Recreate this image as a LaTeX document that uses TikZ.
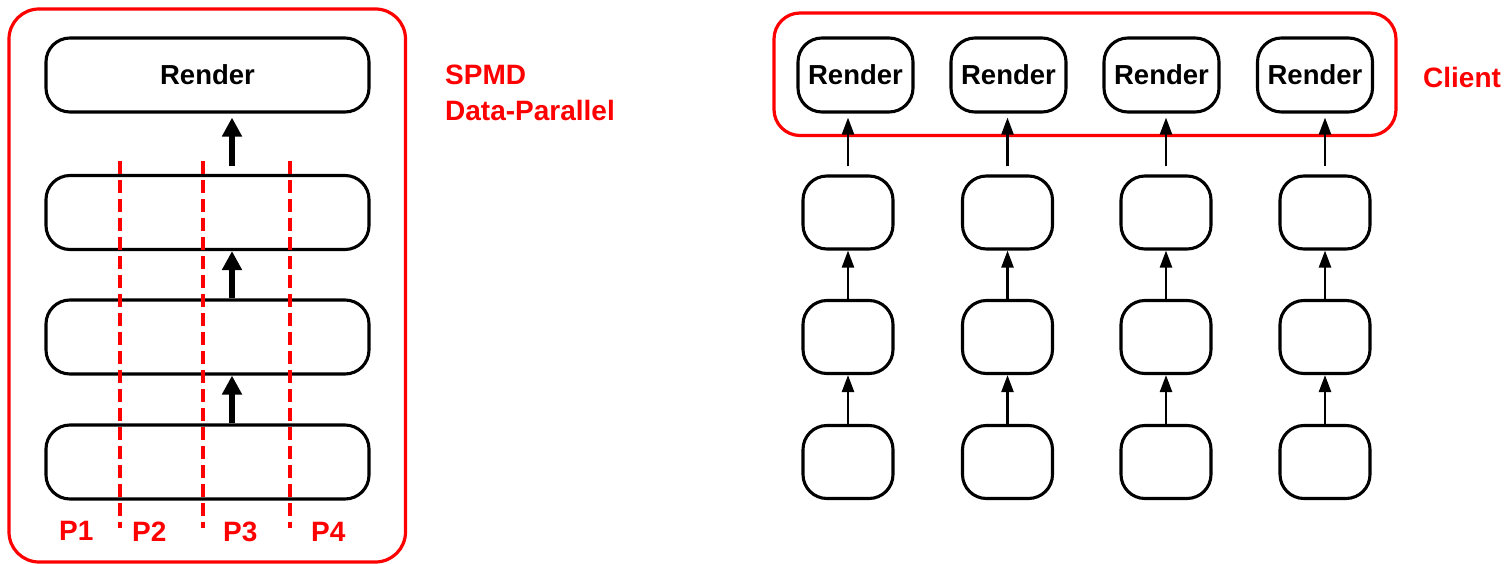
\documentclass[tikz,border=0pt]{standalone}
\usepackage{fontspec}
\setmainfont{Liberation Sans}
\usetikzlibrary{arrows.meta}
\definecolor{accent}{RGB}{255,0,0}
\begin{document}
\begin{tikzpicture}[x=1pt,y=-1pt,
  lbl/.style={font=\fontsize{27.5}{32}\selectfont\bfseries},
  redlbl/.style={font=\fontsize{28}{32}\selectfont\bfseries,text=accent,inner sep=0pt,anchor=base west},
  stage/.style={draw=black,line width=3.1pt,rounded corners=24pt,inner sep=0pt},
  widestage/.style={stage,minimum width=323pt,minimum height=74pt},
  rendbox/.style={stage,minimum width=115pt,minimum height=74pt,lbl},
  smallbox/.style={stage,minimum width=90pt,minimum height=73pt},
  group/.style={draw=accent,line width=3.2pt},
  part/.style={draw=accent,line width=4.2pt,dash pattern=on 13pt off 6pt},
  bigarrow/.style={line width=6.5pt,-{Triangle[width=19pt,length=19pt]}},
  thinarrow/.style={line width=2.4pt,-{Triangle[width=12pt,length=17pt]}}]
\useasboundingbox (0,0) rectangle (1505,564);

% ---- data-parallel pipeline ----
\draw[group,rounded corners=30pt] (9,9) rectangle (405.5,562);
\node[widestage,lbl] (render) at (207.5,75) {Render};
\node[widestage] (s2) at (207.5,212.5) {};
\node[widestage] (s3) at (207.5,337) {};
\node[widestage] (s4) at (207.5,462) {};

\draw[bigarrow,shorten <=8pt,shorten >=4pt] ([xshift=24.5pt]s2.north) -- ([xshift=24.5pt]render.south);
\draw[bigarrow] ([xshift=24.5pt]s3.north) -- ([xshift=24.5pt]s2.south);
\draw[bigarrow] ([xshift=24.5pt]s4.north) -- ([xshift=24.5pt]s3.south);

% partition boundaries
\coordinate (d1t) at (120,161); \coordinate (d1b) at (120,528);
\coordinate (d2t) at (203,161); \coordinate (d2b) at (203,528);
\coordinate (d3t) at (290,161); \coordinate (d3b) at (290,528);
\draw[part] (d1t) -- (d1b);
\draw[part] (d2t) -- (d2b);
\draw[part] (d3t) -- (d3b);

\node[redlbl] (p1) at (59,540) {P1};
\node[redlbl] (p2) at (132,541) {P2};
\node[redlbl] (p3) at (223,541) {P3};
\node[redlbl] (p4) at (311,541) {P4};

\node[redlbl] (spmd) at (445,85) {SPMD};
\node[redlbl] (dp) at (445,121) {Data-Parallel};

% ---- independent pipelines ----
\draw[group,rounded corners=26pt] (774,13) rectangle (1396,135.5);
\node[redlbl] (client) at (1423,88) {Client};

\foreach \i/\rx/\lx in {1/855.5/848, 2/1008.5/1007.5, 3/1161.5/1166, 4/1315/1325} {
  \node[rendbox] (r\i) at (\rx,75) {Render};
  \node[smallbox] (a\i) at (\lx,212.5) {};
  \node[smallbox] (b\i) at (\lx,337) {};
  \node[smallbox] (c\i) at (\lx,462) {};
  \draw[thinarrow,shorten <=8pt,shorten >=4pt] (a\i.north) -- (a\i.north |- r\i.south);
  \draw[thinarrow] (b\i.north) -- (a\i.south);
  \draw[thinarrow] (c\i.north) -- (b\i.south);
}
\end{tikzpicture}
\end{document}
